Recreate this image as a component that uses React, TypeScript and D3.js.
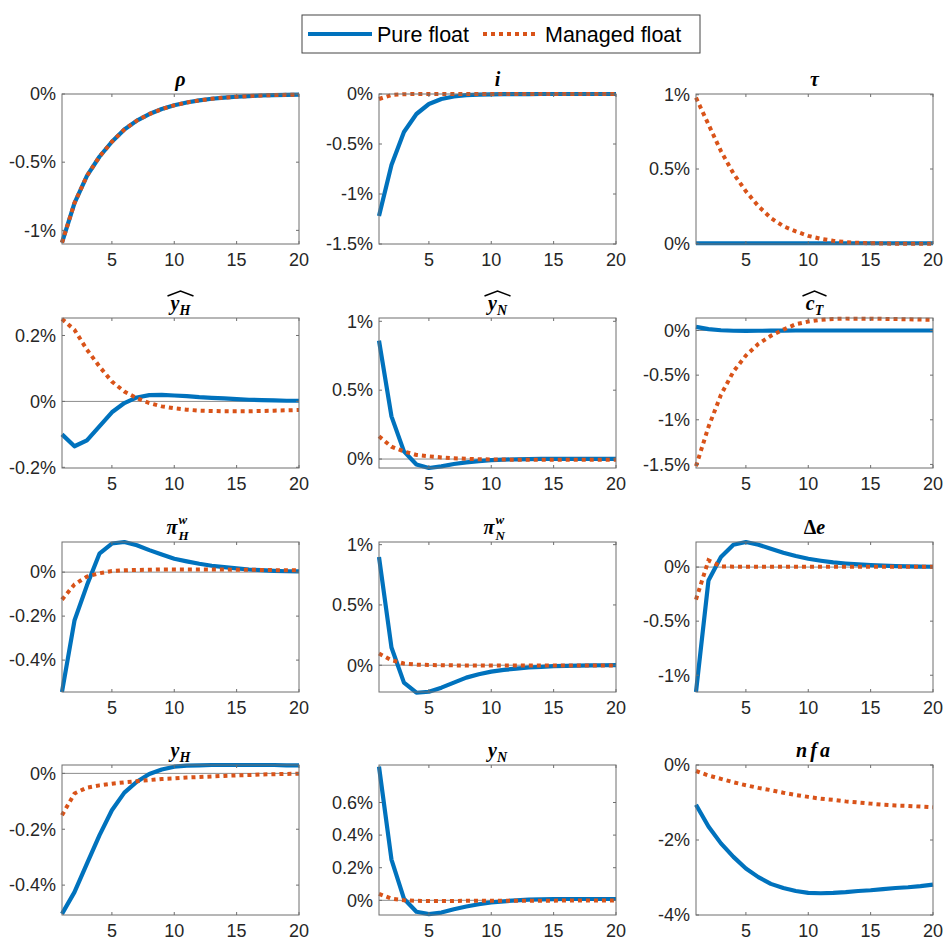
import React from 'react';
import * as d3 from 'd3';

const periods = [1, 2, 3, 4, 5, 6, 7, 8, 9, 10, 11, 12, 13, 14, 15, 16, 17, 18, 19, 20];
const xTicks = [5, 10, 15, 20];
const seriesNames = ['Pure float', 'Managed float'];

// rho
const rhoPure = [-1.09, -0.80, -0.60, -0.46, -0.35, -0.26, -0.195, -0.147, -0.11, -0.083, -0.062, -0.047, -0.035, -0.026, -0.02, -0.015, -0.011, -0.008, -0.006, -0.005];
const rhoManaged = [-1.09, -0.80, -0.60, -0.46, -0.35, -0.26, -0.195, -0.147, -0.11, -0.083, -0.062, -0.047, -0.035, -0.026, -0.02, -0.015, -0.011, -0.008, -0.006, -0.005];
const rhoTicks = [-1, -0.5, 0];
// i
const iPure = [-1.22, -0.71, -0.38, -0.20, -0.10, -0.05, -0.025, -0.012, -0.006, -0.003, -0.0015, -0.001, -0.0005, 0, 0, 0, 0, 0, 0, 0];
const iManaged = [-0.05, -0.01, -0.002, 0, 0, 0, 0, 0, 0, 0, 0, 0, 0, 0, 0, 0, 0, 0, 0, 0];
const iTicks = [-1.5, -1, -0.5, 0];
// tau
const tauPure = [0, 0, 0, 0, 0, 0, 0, 0, 0, 0, 0, 0, 0, 0, 0, 0, 0, 0, 0, 0];
const tauManaged = [0.98, 0.80, 0.62, 0.47, 0.35, 0.25, 0.17, 0.115, 0.08, 0.05, 0.03, 0.017, 0.008, 0.003, 0, -0.002, -0.003, -0.003, -0.003, -0.003];
const tauTicks = [0, 0.5, 1];
// y hat H
const yhHPure = [-0.10, -0.136, -0.118, -0.076, -0.033, -0.005, 0.012, 0.019, 0.02, 0.018, 0.016, 0.013, 0.011, 0.009, 0.007, 0.005, 0.004, 0.003, 0.002, 0.002];
const yhHManaged = [0.25, 0.217, 0.157, 0.106, 0.06, 0.03, 0.01, -0.005, -0.015, -0.021, -0.025, -0.028, -0.029, -0.03, -0.03, -0.03, -0.029, -0.028, -0.027, -0.026];
const yhHTicks = [-0.2, 0, 0.2];
// y hat N
const yhNPure = [0.86, 0.31, 0.056, -0.04, -0.065, -0.053, -0.036, -0.024, -0.015, -0.008, -0.004, -0.002, 0, 0.001, 0.001, 0.001, 0.001, 0.001, 0.001, 0.001];
const yhNManaged = [0.165, 0.09, 0.055, 0.03, 0.02, 0.012, 0.006, 0.002, -0.001, -0.003, -0.004, -0.005, -0.005, -0.005, -0.005, -0.005, -0.005, -0.005, -0.005, -0.005];
const yhNTicks = [0, 0.5, 1];
// c hat T
const cTPure = [0.04, 0.015, 0.003, -0.003, -0.004, -0.003, -0.002, -0.001, 0, 0, 0, 0, 0, 0, 0, 0, 0, 0, 0, 0];
const cTManaged = [-1.52, -1.08, -0.72, -0.46, -0.28, -0.15, -0.06, 0.01, 0.07, 0.10, 0.12, 0.13, 0.133, 0.133, 0.132, 0.13, 0.128, 0.125, 0.122, 0.12];
const cTTicks = [-1.5, -1, -0.5, 0];
// pi w H
const piHPure = [-0.545, -0.22, -0.06, 0.084, 0.13, 0.137, 0.122, 0.10, 0.08, 0.061, 0.049, 0.038, 0.029, 0.023, 0.017, 0.012, 0.009, 0.006, 0.004, 0.003];
const piHManaged = [-0.125, -0.056, -0.02, -0.005, 0.005, 0.008, 0.01, 0.011, 0.012, 0.012, 0.012, 0.012, 0.012, 0.012, 0.011, 0.011, 0.01, 0.009, 0.009, 0.008];
const piHTicks = [-0.4, -0.2, 0];
// pi w N
const piNPure = [0.897, 0.147, -0.144, -0.228, -0.22, -0.186, -0.144, -0.103, -0.075, -0.053, -0.039, -0.028, -0.019, -0.013, -0.008, -0.005, -0.003, -0.001, 0, 0.001];
const piNManaged = [0.097, 0.042, 0.014, 0.005, 0.002, 0, -0.001, -0.002, -0.002, -0.002, -0.002, -0.002, -0.002, -0.002, -0.002, -0.002, -0.002, -0.002, -0.002, -0.002];
const piNTicks = [0, 0.5, 1];
// delta e
const dePure = [-1.155, -0.124, 0.093, 0.207, 0.232, 0.207, 0.17, 0.133, 0.102, 0.077, 0.059, 0.043, 0.033, 0.025, 0.018, 0.013, 0.009, 0.006, 0.004, 0.003];
const deManaged = [-0.30, 0.062, 0.006, 0.004, 0.004, 0.004, 0.004, 0.004, 0.004, 0.004, 0.004, 0.004, 0.004, 0.004, 0.004, 0.004, 0.004, 0.004, 0.004, 0.004];
const deTicks = [-1, -0.5, 0];
// y H
const yHPure = [-0.503, -0.425, -0.323, -0.222, -0.132, -0.069, -0.03, -0.002, 0.014, 0.024, 0.028, 0.029, 0.03, 0.03, 0.03, 0.03, 0.03, 0.03, 0.029, 0.029];
const yHManaged = [-0.15, -0.072, -0.051, -0.043, -0.037, -0.032, -0.028, -0.024, -0.02, -0.018, -0.015, -0.013, -0.011, -0.009, -0.007, -0.006, -0.004, -0.003, -0.002, -0.001];
const yHTicks = [-0.4, -0.2, 0];
// y N
const yNPure = [0.82, 0.25, 0.01, -0.07, -0.085, -0.075, -0.055, -0.038, -0.024, -0.013, -0.006, 0, 0.004, 0.006, 0.007, 0.008, 0.008, 0.008, 0.008, 0.008];
const yNManaged = [0.04, 0.01, 0.0, -0.003, -0.004, -0.004, -0.004, -0.003, -0.003, -0.003, -0.002, -0.002, -0.002, -0.002, -0.002, -0.001, -0.001, -0.001, -0.001, -0.001];
const yNTicks = [0, 0.2, 0.4, 0.6];
// nfa
const nfaPure = [-1.06, -1.64, -2.09, -2.45, -2.76, -2.99, -3.17, -3.28, -3.36, -3.41, -3.42, -3.41, -3.39, -3.36, -3.34, -3.31, -3.28, -3.26, -3.23, -3.19];
const nfaManaged = [-0.16, -0.28, -0.37, -0.46, -0.54, -0.61, -0.67, -0.74, -0.80, -0.85, -0.9, -0.93, -0.97, -1.0, -1.03, -1.06, -1.08, -1.09, -1.11, -1.13];
const nfaTicks = [-4, -2, 0];

type TitleSpec = { base: string; sub?: string; sup?: string; hat?: boolean; upright?: string; spacing?: number };
type PanelSpec = { title: TitleSpec; pure: number[]; managed: number[]; domain: [number, number]; ticks: number[] };

const panels: PanelSpec[] = [
  { title: { base: 'ρ' }, pure: rhoPure, managed: rhoManaged, domain: [-1.1, 0], ticks: rhoTicks },
  { title: { base: 'i' }, pure: iPure, managed: iManaged, domain: [-1.5, 0], ticks: iTicks },
  { title: { base: 'τ' }, pure: tauPure, managed: tauManaged, domain: [-0.005, 1.005], ticks: tauTicks },
  { title: { base: 'y', sub: 'H', hat: true }, pure: yhHPure, managed: yhHManaged, domain: [-0.202, 0.253], ticks: yhHTicks },
  { title: { base: 'y', sub: 'N', hat: true }, pure: yhNPure, managed: yhNManaged, domain: [-0.065, 1.024], ticks: yhNTicks },
  { title: { base: 'c', sub: 'T', hat: true }, pure: cTPure, managed: cTManaged, domain: [-1.54, 0.14], ticks: cTTicks },
  { title: { base: 'π', sub: 'H', sup: 'w' }, pure: piHPure, managed: piHManaged, domain: [-0.545, 0.137], ticks: piHTicks },
  { title: { base: 'π', sub: 'N', sup: 'w' }, pure: piNPure, managed: piNManaged, domain: [-0.222, 1.022], ticks: piNTicks },
  { title: { base: 'e', upright: 'Δ' }, pure: dePure, managed: deManaged, domain: [-1.155, 0.232], ticks: deTicks },
  { title: { base: 'y', sub: 'H' }, pure: yHPure, managed: yHManaged, domain: [-0.507, 0.03], ticks: yHTicks },
  { title: { base: 'y', sub: 'N' }, pure: yNPure, managed: yNManaged, domain: [-0.09, 0.83], ticks: yNTicks },
  { title: { base: 'nfa', spacing: 3 }, pure: nfaPure, managed: nfaManaged, domain: [-4, 0], ticks: nfaTicks },
];

const colLeft = [62, 379, 696];
const rowTop = [94, 318, 542, 765];
const PW = 237;
const PH = 150;
const BLUE = '#0072BD';
const ORANGE = '#D95319';
const AXIS = '#262626';
const FRAME = '#6e6e6e';
const TICK_FONT = '"Liberation Sans", Arial, sans-serif';
const MATH_FONT = '"Liberation Serif", "Times New Roman", serif';

function fmt(v: number) {
  return `${v}%`;
}

function Title({ spec, cx, baseline }: { spec: TitleSpec; cx: number; baseline: number }) {
  const fs = 20;
  const common = { fontFamily: MATH_FONT, fontWeight: 'bold' as const, fontStyle: 'italic' as const, fill: '#000' };
  if (spec.sup && spec.sub) {
    // pi with stacked superscript and subscript
    return (
      <g>
        <text x={cx - 3} y={baseline} textAnchor="end" fontSize={fs} {...common}>{spec.base}</text>
        <text x={cx - 2} y={baseline - 10} textAnchor="start" fontSize={13} {...common}>{spec.sup}</text>
        <text x={cx - 2} y={baseline + 6} textAnchor="start" fontSize={13} {...common}>{spec.sub}</text>
      </g>
    );
  }
  const hatW = spec.base === 'c' ? 24 : 26;
  return (
    <g>
      <text x={cx} y={baseline} textAnchor="middle" fontSize={fs} letterSpacing={spec.spacing || 0} {...common}>
        {spec.upright ? <tspan fontStyle="normal">{spec.upright}</tspan> : null}
        <tspan>{spec.base}</tspan>
        {spec.sub ? <tspan fontSize={14} dy={5}>{spec.sub}</tspan> : null}
      </text>
      {spec.hat ? (
        <path d={`M${cx - hatW / 2},${baseline - 14} L${cx},${baseline - 19} L${cx + hatW / 2},${baseline - 14}`} fill="none" stroke="#000" strokeWidth={1.4} />
      ) : null}
    </g>
  );
}

function Panel({ spec, left, top }: { spec: PanelSpec; left: number; top: number }) {
  const x = d3.scaleLinear().domain([1, 20]).range([left, left + PW]);
  const y = d3.scaleLinear().domain(spec.domain).range([top + PH, top]);
  const line = d3
    .line<number>()
    .x((_, i) => x(periods[i]))
    .y((d) => y(d));
  const showZero = spec.domain[0] < 0 && spec.domain[1] > 0;
  const tl = 3;
  return (
    <g>
      {showZero ? <line x1={left} x2={left + PW} y1={y(0)} y2={y(0)} stroke="#8c8c8c" strokeWidth={1} /> : null}
      <path d={line(spec.pure) || ''} fill="none" stroke={BLUE} strokeWidth={4.2} strokeLinejoin="round" />
      <path d={line(spec.managed) || ''} fill="none" stroke={ORANGE} strokeWidth={4} strokeDasharray="4 4" />
      <rect x={left} y={top} width={PW} height={PH} fill="none" stroke={FRAME} strokeWidth={1} />
      {spec.ticks.map((t) => (
        <g key={`y${t}`}>
          <line x1={left} x2={left + tl} y1={y(t)} y2={y(t)} stroke={FRAME} />
          <line x1={left + PW} x2={left + PW - tl} y1={y(t)} y2={y(t)} stroke={FRAME} />
          <text x={left - 6} y={y(t)} dy="0.35em" textAnchor="end" fontFamily={TICK_FONT} fontSize={18} fill={AXIS}>
            {fmt(t)}
          </text>
        </g>
      ))}
      {xTicks.map((t) => (
        <g key={`x${t}`}>
          <line x1={x(t)} x2={x(t)} y1={top + PH} y2={top + PH - tl} stroke={FRAME} />
          <line x1={x(t)} x2={x(t)} y1={top} y2={top + tl} stroke={FRAME} />
          <text x={x(t)} y={top + PH + 22} textAnchor="middle" fontFamily={TICK_FONT} fontSize={18} fill={AXIS}>
            {t}
          </text>
        </g>
      ))}
      <Title spec={spec.title} cx={left + PW / 2} baseline={top - 8} />
    </g>
  );
}

export default function App() {
  return (
    <svg width={943} height={941} style={{ position: 'absolute', left: 0, top: 0, background: '#fff' }}>
      <rect x={0} y={0} width={943} height={941} fill="#fff" />
      {panels.map((p, k) => (
        <Panel key={k} spec={p} left={colLeft[k % 3]} top={rowTop[Math.floor(k / 3)]} />
      ))}
      <g>
        <rect x={302} y={15} width={398} height={38} fill="#fff" stroke="#444" strokeWidth={1} />
        <line x1={308} x2={372} y1={34} y2={34} stroke={BLUE} strokeWidth={4.2} />
        <text x={377} y={34} dy="0.35em" fontFamily={TICK_FONT} fontSize={21.5} fill="#000">{seriesNames[0]}</text>
        <line x1={483} x2={539} y1={34} y2={34} stroke={ORANGE} strokeWidth={4} strokeDasharray="4 4" />
        <text x={545} y={34} dy="0.35em" fontFamily={TICK_FONT} fontSize={21.5} fill="#000">{seriesNames[1]}</text>
      </g>
    </svg>
  );
}
